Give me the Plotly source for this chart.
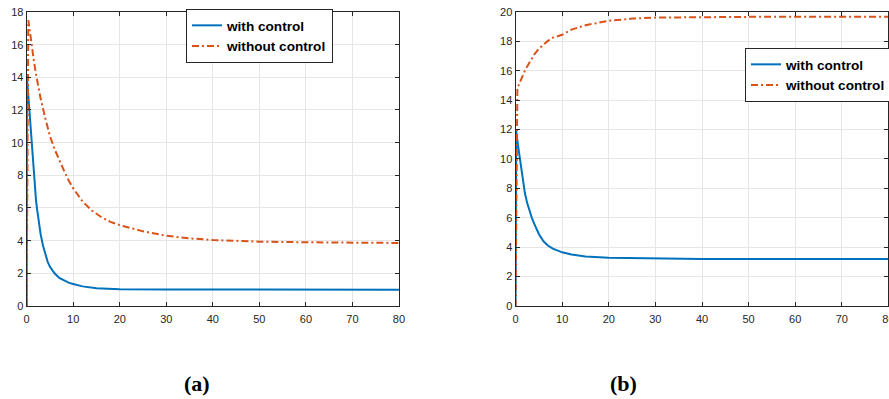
import plotly.graph_objects as go

# ---- data: panel (a) ----
t_a_ctrl = [0, 0.05, 0.25, 0.5, 0.75, 1, 1.25, 1.5, 1.75, 2, 2.25, 2.5, 2.75, 3, 3.5, 4, 4.5, 5, 5.5, 6,
            7, 8, 9, 10, 12, 15, 20, 30, 80]
y_a_ctrl = [0, 14.0, 13.3, 12.3, 11.2, 10.1, 9.1, 8.2, 7.3, 6.5, 5.9, 5.35, 4.85, 4.4, 3.7, 3.15, 2.72, 2.4,
            2.17, 2.0, 1.72, 1.55, 1.43, 1.35, 1.2, 1.09, 1.03, 1.01, 1.0]

t_a_noctrl = [0, 0.35, 0.7, 1, 1.5, 2, 2.5, 3, 4, 5, 6, 7, 8, 9, 10, 12, 14, 16, 18, 20, 25, 30, 35, 40,
              45, 50, 60, 70, 80]
y_a_noctrl = [0, 17.5, 16.8, 16.1, 15.1, 14.2, 13.4, 12.7, 11.5, 10.4, 9.6, 8.9, 8.3, 7.7, 7.2, 6.4, 5.85,
              5.45, 5.15, 4.95, 4.57, 4.3, 4.14, 4.04, 3.98, 3.94, 3.9, 3.88, 3.86]

# ---- data: panel (b) ----
t_b_ctrl = [0, 0.15, 0.5, 1, 1.5, 2, 2.5, 3, 3.5, 4, 4.5, 5, 6, 7, 8, 9, 10, 12, 15, 20, 30, 40, 80]
y_b_ctrl = [0, 11.9, 11.0, 9.8, 8.6, 7.7, 7.0, 6.45, 6.0, 5.6, 5.2, 4.9, 4.4, 4.1, 3.9, 3.75, 3.65, 3.5,
            3.37, 3.28, 3.22, 3.2, 3.2]

t_b_noctrl = [0, 0.4, 0.7, 1, 1.5, 2, 2.5, 3, 4, 5, 6, 7, 8, 10, 12, 15, 20, 25, 30, 40, 50, 60, 80]
y_b_noctrl = [0, 14.8, 15.05, 15.3, 15.7, 16.0, 16.3, 16.6, 17.1, 17.5, 17.8, 18.05, 18.25, 18.45, 18.8,
              19.1, 19.4, 19.55, 19.62, 19.66, 19.67, 19.67, 19.67]

x_ticks = [0, 10, 20, 30, 40, 50, 60, 70, 80]
y_ticks_a = list(range(0, 19, 2))
y_ticks_b = list(range(0, 21, 2))

series_names = ["with control", "without control"]
panel_labels = ["(a)", "(b)"]

BLUE = "#0072BD"
RED = "#D95319"
AX = "#262626"
DASHDOT = "7px,3px,2px,3px"

fig = go.Figure()

fig.add_trace(go.Scatter(x=t_a_ctrl, y=y_a_ctrl, mode="lines", name=series_names[0],
                         line=dict(color=BLUE, width=2), xaxis="x", yaxis="y", legend="legend"))
fig.add_trace(go.Scatter(x=t_a_noctrl, y=y_a_noctrl, mode="lines", name=series_names[1],
                         line=dict(color=RED, width=2, dash=DASHDOT), xaxis="x", yaxis="y", legend="legend"))
fig.add_trace(go.Scatter(x=t_b_ctrl, y=y_b_ctrl, mode="lines", name=series_names[0],
                         line=dict(color=BLUE, width=2), xaxis="x2", yaxis="y2", legend="legend2"))
fig.add_trace(go.Scatter(x=t_b_noctrl, y=y_b_noctrl, mode="lines", name=series_names[1],
                         line=dict(color=RED, width=2, dash=DASHDOT), xaxis="x2", yaxis="y2", legend="legend2"))

tickfont = dict(family="Liberation Sans, Arial, sans-serif", size=11, color=AX)
common = dict(showline=True, linecolor=AX, linewidth=1, mirror="ticks", ticks="inside", ticklen=4,
              tickcolor=AX, showgrid=True, gridcolor="#e6e6e6", gridwidth=1, zeroline=False,
              tickfont=tickfont, ticklabeloverflow="allow")
xcommon = dict(common, ticklabelstandoff=3)

legend_font = dict(family="Liberation Sans, Arial, sans-serif", size=13.6, color="black", weight="bold")

y_dom = [0.2331, 0.9699]
fig.update_layout(
    width=889, height=399,
    margin=dict(l=0, r=0, t=0, b=0, autoexpand=False),
    paper_bgcolor="white", plot_bgcolor="white",
    xaxis=dict(domain=[0.0300, 0.4488], range=[0, 80], tickvals=x_ticks, anchor="y", **xcommon),
    yaxis=dict(domain=y_dom, range=[0, 18], tickvals=y_ticks_a, anchor="x", **common),
    xaxis2=dict(domain=[0.5799, 0.9994], range=[0, 80], tickvals=x_ticks, anchor="y2", **xcommon),
    yaxis2=dict(domain=y_dom, range=[0, 20], tickvals=y_ticks_b, anchor="x2", **common),
    legend=dict(x=186 / 889, y=(399 - 9) / 399, xanchor="left", yanchor="top", bgcolor="white",
                bordercolor=AX, borderwidth=1, tracegroupgap=0, font=legend_font),
    legend2=dict(x=745 / 889, y=(399 - 48) / 399, xanchor="left", yanchor="top", bgcolor="white",
                 bordercolor=AX, borderwidth=1, tracegroupgap=0, font=legend_font),
    annotations=[
        dict(text=panel_labels[0], x=197 / 889, y=(399 - 383) / 399, xref="paper", yref="paper",
             showarrow=False, xanchor="center", yanchor="middle",
             font=dict(family="Liberation Serif, Times New Roman, serif", size=22, color="black",
                       weight="bold")),
        dict(text=panel_labels[1], x=623 / 889, y=(399 - 383) / 399, xref="paper", yref="paper",
             showarrow=False, xanchor="center", yanchor="middle",
             font=dict(family="Liberation Serif, Times New Roman, serif", size=22, color="black",
                       weight="bold")),
    ],
)

fig.write_html("out.html")
